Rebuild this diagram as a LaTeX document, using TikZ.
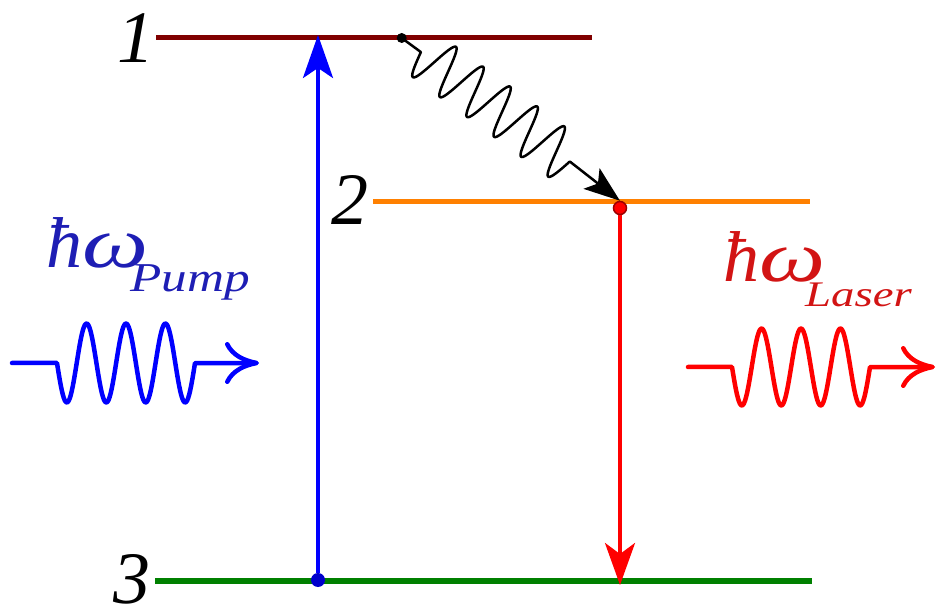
\documentclass[tikz,border=0pt]{standalone}
\usepackage{fontspec}
\setmainfont{Liberation Serif}
\usetikzlibrary{arrows.meta}
\definecolor{lvlone}{RGB}{128,0,0}
\definecolor{lvltwo}{RGB}{255,128,0}
\definecolor{lvlthree}{RGB}{0,128,0}
\definecolor{pumpblue}{RGB}{0,0,255}
\definecolor{pumptext}{RGB}{30,30,180}
\definecolor{laserred}{RGB}{255,0,0}
\definecolor{lasertext}{RGB}{210,20,20}
\begin{document}
\begin{tikzpicture}[x=1pt,y=-1pt,
  level/.style={line width=5pt},
  levelnum/.style={font=\fontsize{74}{74}\selectfont\itshape, anchor=base west, inner sep=0pt},
  dotnode/.style={circle, inner sep=0pt, minimum size=13pt},
  transition/.style={line width=3.5pt},
  photon/.style={line width=4.5pt, line join=round, line cap=round},
  biglabel/.style={anchor=base west, inner sep=0pt, font=\fontsize{72}{72}\selectfont\itshape},
  sublabel/.style={anchor=base west, inner sep=0pt},
  wiggle/.style={line width=2.5pt, line join=round},
]
\useasboundingbox (0,0) rectangle (938,612);

% energy levels
\coordinate (l1a) at (156,38); \coordinate (l1b) at (592,38);
\coordinate (l2a) at (373,202); \coordinate (l2b) at (810,202);
\coordinate (l3a) at (155,581); \coordinate (l3b) at (812,581);
\draw[level, lvlone] (l1a) -- (l1b);
\draw[level, lvltwo] (l2a) -- (l2b);
\draw[level, lvlthree, line width=6pt] (l3a) -- (l3b);

\node[levelnum] (n1) at (117,63) {1};
\node[levelnum] (n2) at (331,225) {2};
\node[levelnum] (n3) at (113,603) {3};

% dots
\node[dotnode, fill=black, minimum size=10pt] (d1) at (401.7,38) {};
\node[dotnode, fill=red, draw=red!60!black, line width=1.5pt] (d2) at (620,208) {};
\node[dotnode, fill=blue!80!black, minimum size=14pt] (d3) at (318,580) {};

% pump transition
\coordinate (bluetip) at (318,35);
\draw[transition, pumpblue, -{Stealth[length=43pt,width=30pt,inset=10pt]}] (d3) -- (bluetip);

% laser transition
\coordinate (redtip) at (620,585);
\draw[transition, laserred, -{Stealth[length=42pt,width=30pt,inset=11pt]}] (d2) -- (redtip);

% non-radiative decay
\draw[wiggle, black, -{Stealth[length=36pt,width=26pt,inset=8pt]}] (d1)
  -- plot[domain=23.8:208.6, samples=220]
     ({401.7+0.806*\x-0.592*25*sin((\x-23.8)*10.714)},
      {38+0.592*\x+0.806*25*sin((\x-23.8)*10.714)})
  -- (d2.north);

% pump photon
\coordinate (pw0) at (12,363);
\coordinate (pw1) at (57,363);
\coordinate (pw3) at (259,363);
\draw[photon, pumpblue, -{To[length=34pt,width=42pt]}] (pw0) -- (pw1)
  -- plot[domain=57:195, samples=140] (\x,{363+39.5*sin((\x-57)*9.1301)}) -- (pw3);
\node[biglabel, text=pumptext] (pumpsym) at (46,268) {ħ\scalebox{1.3}[1]{ω}};
\node[sublabel, text=pumptext] (pumpsub) at (130,292)
  {\fontsize{41}{41}\selectfont\itshape\scalebox{1.25}[1]{Pump}};

% laser photon
\coordinate (lw0) at (688,367);
\coordinate (lw1) at (732,367);
\coordinate (lw3) at (935,367);
\draw[photon, laserred, -{To[length=34pt,width=42pt]}] (lw0) -- (lw1)
  -- plot[domain=732:870, samples=140] (\x,{367+38.5*sin((\x-732)*9.1301)}) -- (lw3);
\node[biglabel, text=lasertext] (lasersym) at (723,282) {ħ\scalebox{1.3}[1]{ω}};
\node[sublabel, text=lasertext] (lasersub) at (805,307)
  {\fontsize{36}{36}\selectfont\itshape\scalebox{1.3}[1]{Laser}};
\end{tikzpicture}
\end{document}
